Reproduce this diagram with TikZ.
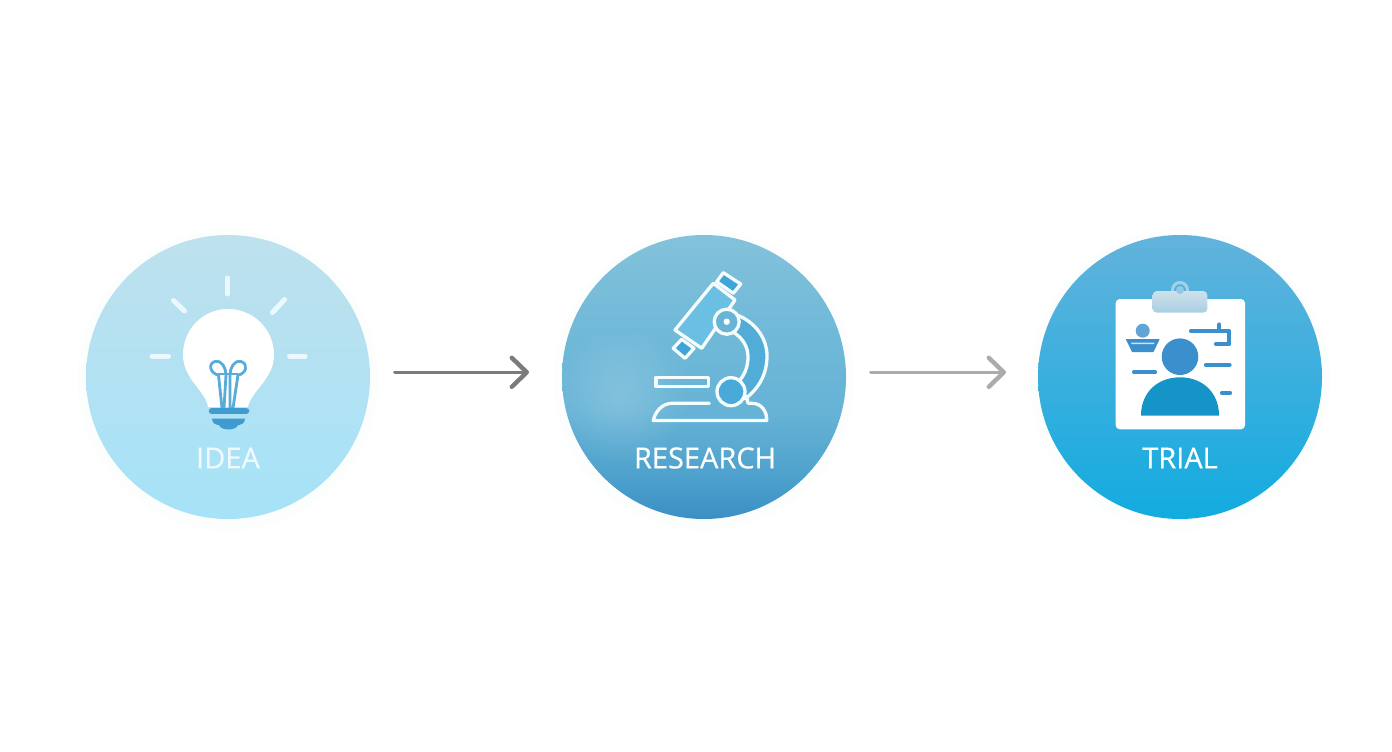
\documentclass[tikz,border=0pt]{standalone}
\usepackage{fontspec}
\setmainfont{Open Sans}
\newfontfamily\stagefont[FakeBold=0.35]{Open Sans}
\usetikzlibrary{arrows.meta,fadings}
\definecolor{ideatop}{HTML}{BEE1ED}
\definecolor{ideamid}{HTML}{B3E2F1}
\definecolor{ideabot}{HTML}{A6E2F8}
\definecolor{resmid}{HTML}{67B4D7}
\definecolor{tritop}{HTML}{62B3DC}
\definecolor{trimid}{HTML}{3FAEDD}
\definecolor{tribot}{HTML}{12ABE0}
\definecolor{filament}{HTML}{58ACD9}
\definecolor{bulbbase}{HTML}{3F9BD0}
\definecolor{lens}{HTML}{3FA5D8}
\definecolor{tube}{HTML}{6ABFE3}
\definecolor{personA}{HTML}{3A8FCC}
\definecolor{personB}{HTML}{1594C8}
\definecolor{clipT}{HTML}{CFE0EA}
\definecolor{clipB}{HTML}{A9CFE2}
\definecolor{arrowdark}{HTML}{7B7B7B}
\definecolor{arrowlight}{HTML}{ABABAB}
\definecolor{halo}{HTML}{FCFEFE}
\definecolor{resA}{HTML}{3A90C5}
\definecolor{resB}{HTML}{4FA2CD}
\definecolor{resC}{HTML}{66B3D6}
\definecolor{resD}{HTML}{74BBD9}
\definecolor{resE}{HTML}{84C2DA}
\pgfdeclareverticalshading{resgrad}{100bp}{
  color(0bp)=(resA); color(25bp)=(resA); color(33bp)=(resB);
  color(44bp)=(resC); color(62bp)=(resD); color(75bp)=(resE); color(100bp)=(resE)}
\tikzfading[name=softspot,inner color=transparent!82,outer color=transparent!100]
\tikzset{
  x=1pt,y=-1pt,
  stagecircle/.style={circle,minimum size=284pt,inner sep=0pt,outer sep=0pt},
  stagelabel/.style={font=\stagefont\fontsize{29}{32}\selectfont,text=white,inner sep=0pt},
  glow/.style={circle,minimum size=300pt,inner sep=0pt,fill=halo},
  flowarrow/.style={line width=3.6pt,line cap=round,-{Straight Barb[length=15pt,width=29pt,line width=4.4pt,round]},color=#1},
  ray/.style={white!92!cyan,line width=5pt,line cap=round},
  scopeline/.style={white!96!cyan,line width=3.3pt,line join=round,line cap=round},
  clipline/.style={personA,line width=4.2pt,line cap=round,line join=round}
}
\begin{document}
\begin{tikzpicture}
\useasboundingbox (0,0) rectangle (1392,752);
\fill[white] (0,0) rectangle (1392,752);
% soft halos
\node[glow] at (228,380) {};
\node[glow] at (704,380) {};
\node[glow] at (1180,380) {};
% stages
\node[stagecircle,top color=ideatop,middle color=ideamid,bottom color=ideabot] (idea) at (228,377) {};
\node[stagecircle,shading=resgrad] (research) at (704,377) {};
\node[stagecircle,top color=tritop,middle color=trimid,bottom color=tribot] (trial) at (1180,377) {};
% mottled light patch
\begin{scope}
\clip (704,377) circle[radius=142pt];
\fill[white,path fading=softspot] (620,395) circle[radius=70pt];
\end{scope}
% labels
\node[stagelabel,text=white!94!cyan] (idealabel) at (228,458) {IDEA};
\node[stagelabel] (researchlabel) at (705,458) {RESEARCH};
\node[stagelabel] (triallabel) at (1180,458) {TRIAL};
% connectors
\draw[flowarrow=arrowdark,shorten <=25pt,shorten >=33pt] ([yshift=4.7pt]idea.east) -- ([yshift=4.7pt]research.west);
\draw[flowarrow=arrowlight,shorten <=25pt,shorten >=32pt] ([yshift=4.7pt]research.east) -- ([yshift=4.7pt]trial.west);
% ---- bulb
\draw[ray] (227.7,278) -- (227.7,294);
\draw[ray] (173.5,300.5) -- (184.5,311);
\draw[ray] (284.5,299.5) -- (272.5,312.5);
\draw[ray] (152,356) -- (168.5,356);
\draw[ray] (289.5,356) -- (305,356);
\fill[white] (208,407) .. controls (206,391) and (183,379) .. (183,355)
  .. controls (183,329) and (203,309) .. (228,309)
  .. controls (253,309) and (274,329) .. (274,355)
  .. controls (274,379) and (251,391) .. (248,407) -- cycle;
\draw[filament,line width=2.8pt,line cap=round]
  (222,408) -- (218.5,375) .. controls (211,374) and (207,364) .. (215,361.5)
  .. controls (222,360) and (226,368) .. (226,375) -- (224,408);
\draw[filament,line width=2.8pt,line cap=round]
  (233,408) -- (238,375) .. controls (246,374) and (249,364) .. (241,361.5)
  .. controls (234,360) and (230,368) .. (230,375) -- (230,408);
\draw[filament,line width=2pt] (218,374) -- (238,374);
\draw[bulbbase,line width=6.5pt,line cap=round] (212,411) -- (246,411);
\fill[bulbbase] (212,418.5) -- (245,418.5) .. controls (245,424) and (240,425) .. (238,425)
  .. controls (236,431) and (221,431) .. (219,425) .. controls (217,425) and (212,424) .. (212,418.5) -- cycle;
% ---- microscope
\draw[scopeline,fill=tube] (713.3,283.3) -- (735,300) -- (701.7,348.3) -- (675,330) -- cycle;
\draw[scopeline,fill=lens] (723.3,272.7) -- (740.7,284) -- (733.3,293.3) -- (716.7,281.7) -- cycle;
\draw[scopeline,fill=lens] (681.7,339.3) -- (694,348.3) -- (685,358.3) -- (673.3,348.3) -- cycle;
\fill[lens!55!resmid] (737,315) .. controls (755,322) and (767,338) .. (767,356)
  .. controls (767,376) and (757,390) .. (745,399) -- (740,380)
  .. controls (745,374) and (748,366) .. (748,357) .. controls (748,347) and (743,338) .. (733,332) -- cycle;
\draw[scopeline] (737,315) .. controls (755,322) and (767,338) .. (767,356)
  .. controls (767,376) and (757,390) .. (745,399);
\draw[scopeline] (733,332) .. controls (743,338) and (748,347) .. (748,357)
  .. controls (748,366) and (745,374) .. (740,380);
\draw[scopeline,fill=resmid] (726.7,321.7) circle[radius=12.5pt];
\fill[white] (726.7,321.7) circle[radius=3.2pt];
\draw[scopeline] (656,377.3) rectangle (708.3,386.7);
\draw[scopeline,fill=lens!75!resmid] (731,391.7) circle[radius=14pt];
\draw[scopeline] (709.3,403.3) -- (672,403.3) .. controls (662,403.3) and (655,412) .. (653.3,420.5)
  -- (766.7,420.5) .. controls (767,412) and (762,403.3) .. (752,403.3) -- (748,403.3) -- (746.5,396);
% ---- clipboard
\fill[white] (1115.7,299) [rounded corners=4pt] -- (1245,299) -- (1245,429.3) -- (1115.7,429.3) -- cycle;
\draw[clipB,line width=3pt] (1180,290) circle[radius=7.5pt];
\shade[top color=clipT,bottom color=clipB,rounded corners=4pt] (1152.7,291) rectangle (1207.3,312.7);
\fill[white!30!tritop] (1180,290) circle[radius=4pt];
\fill[personA] (1180,356.7) circle[radius=18.3pt];
\fill[personB] (1141,415.5) .. controls (1141,392) and (1158,377.3) .. (1180,377.3)
  .. controls (1202,377.3) and (1219,392) .. (1219,415.5) -- cycle;
\fill[personA!80!white] (1142.7,330.7) circle[radius=7pt];
\fill[personA,draw=personA,line width=1pt,line join=round] (1126.5,339.5) -- (1159,339.5) -- (1153,351.7) -- (1132.5,351.7) -- cycle;
\fill[white!75!personA] (1131,342.5) -- (1154.5,342.5) -- (1154,344) -- (1131.5,344) -- cycle;
\draw[clipline] (1191,331) -- (1229.3,331) -- (1229.3,344) -- (1216,344);
\draw[clipline] (1219.3,324.5) -- (1219.3,331);
\draw[clipline] (1206,365) -- (1229.5,365);
\draw[clipline] (1134,372.3) -- (1155,372.3);
\draw[clipline] (1222,392.7) -- (1230,392.7);
\end{tikzpicture}
\end{document}
